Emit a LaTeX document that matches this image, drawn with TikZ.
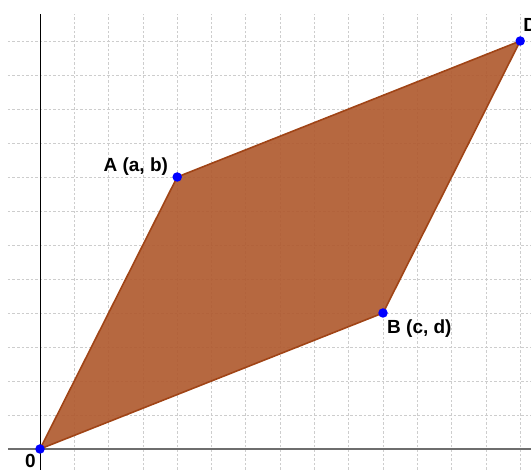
\documentclass[tikz,border=0pt]{standalone}
\usepackage{fontspec}
\setmainfont{Liberation Sans}
\definecolor{gridc}{RGB}{205,205,205}
\definecolor{fillc}{RGB}{176,92,50}
\definecolor{edgec}{RGB}{160,68,22}
\definecolor{xaxisc}{RGB}{110,110,110}
\tikzset{
  gridline/.style={gridc, line width=0.8pt, dash pattern=on 2.5pt off 2pt},
  parashape/.style={draw=edgec, line width=1.6pt, fill=fillc, fill opacity=0.93, line join=round},
  dot/.style={circle, fill={rgb,255:red,0;green,0;blue,255}, inner sep=0pt, minimum size=9.5pt},
  lbl/.style={font=\fontsize{19}{19}\selectfont\bfseries, inner sep=0pt}
}
\begin{document}
\begin{tikzpicture}[x=34.3pt,y=34pt]
\useasboundingbox (-40pt,-21pt) rectangle (491pt,449pt);
% grid
\foreach \i in {1,...,14} \draw[gridline] (\i,-21pt) -- (\i,435pt);
\foreach \j in {1,...,12} \draw[gridline] (-32pt,\j) -- (491pt,\j);
% axes
\draw[xaxisc, line width=1.2pt] (-32pt,0) -- (491pt,0);
\draw[black, line width=1pt] (0,-21pt) -- (0,435pt);
% points
\coordinate (O) at (0,0);
\coordinate (A) at (4,8);
\coordinate (B) at (10,4);
\coordinate (D) at (14,12);
\draw[parashape] (O) -- (A) -- (D) -- (B) -- cycle;
\node[dot] (Od) at (O) {};
\node[dot] (Ad) at (A) {};
\node[dot] (Bd) at (B) {};
\node[dot] (Dd) at (D) {};
% labels
\node[lbl, anchor=base east] (Al) at ([shift={(-9pt,5pt)}]A) {A (a, b)};
\node[lbl, anchor=base west] (Bl) at ([shift={(4pt,-21pt)}]B) {B (c, d)};
\node[lbl, anchor=base east] (Ol) at ([shift={(-4pt,-19pt)}]O) {0};
\node[lbl, anchor=base west] (Dl) at ([shift={(3pt,9pt)}]D) {D};
\end{tikzpicture}
\end{document}
